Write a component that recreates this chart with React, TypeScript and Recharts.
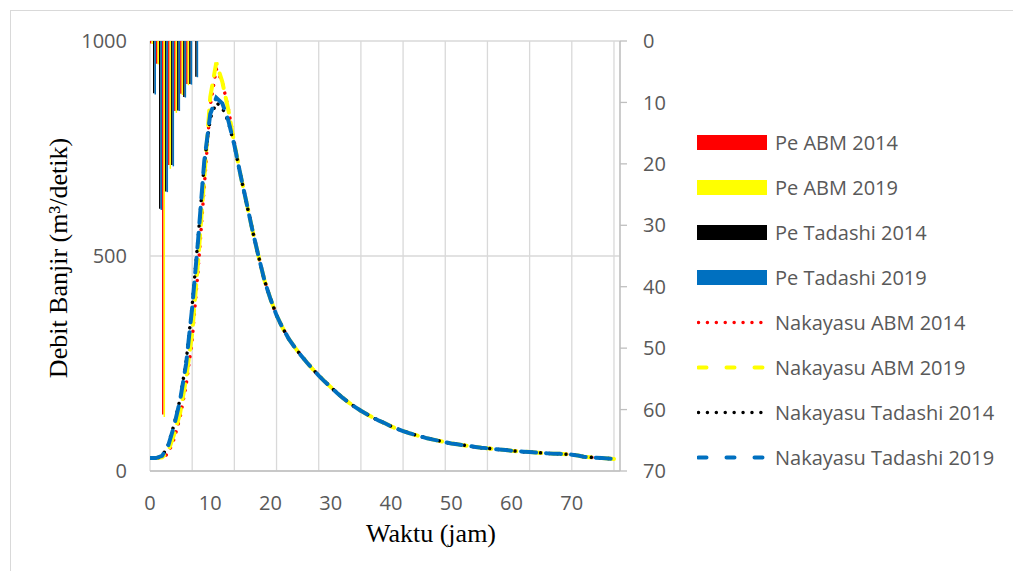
import React from 'react';
import { ComposedChart, Line, Bar, XAxis, YAxis, CartesianGrid, Legend } from 'recharts';

// ---- data ----
const hours = [
  0, 1, 2, 3, 4, 5, 6, 7, 8, 9, 10, 11, 12, 13, 14, 15, 16, 17, 18, 19,
  20, 21, 22, 23, 24, 25, 26, 27, 28, 29, 30, 31, 32, 33, 34, 35, 36, 37, 38, 39,
  40, 41, 42, 43, 44, 45, 46, 47, 48, 49, 50, 51, 52, 53, 54, 55, 56, 57, 58, 59,
  60, 61, 62, 63, 64, 65, 66, 67, 68, 69, 70, 71, 72, 73, 74, 75, 76, 77,
];

const nakayasuAbm2014 = [
  30, 30, 31, 40, 75, 125, 200, 305, 470, 660, 850, 935, 905, 842, 764, 691, 626, 561, 501, 444,
  400, 362, 333, 308, 288, 270, 253, 237, 222, 208, 195, 182, 170, 159, 149, 140, 132, 124, 117, 111,
  104, 98, 93, 88, 84, 80, 76, 73, 70, 67, 64, 62, 60, 58, 56, 54, 53, 51, 50, 49,
  47, 46, 45, 44, 43, 42, 41, 40, 40, 39, 38, 36, 33, 32, 31, 30, 29, 28,
];

const nakayasuAbm2019 = [
  30, 30, 32, 45, 85, 135, 215, 320, 490, 680, 870, 950, 905, 840, 762, 690, 625, 560, 500, 443,
  400, 362, 333, 308, 288, 270, 253, 237, 222, 208, 195, 182, 170, 159, 149, 140, 132, 124, 117, 111,
  104, 98, 93, 88, 84, 80, 76, 73, 70, 67, 64, 62, 60, 58, 56, 54, 53, 51, 50, 49,
  47, 46, 45, 44, 43, 42, 41, 40, 40, 39, 38, 36, 33, 32, 31, 30, 29, 28,
];

const nakayasuTadashi2014 = [
  30, 30, 34, 60, 108, 168, 255, 385, 545, 715, 820, 857, 845, 812, 757, 689, 624, 560, 500, 443,
  400, 362, 333, 308, 288, 270, 253, 237, 222, 208, 195, 182, 170, 159, 149, 140, 132, 124, 117, 111,
  104, 98, 93, 88, 84, 80, 76, 73, 70, 67, 64, 62, 60, 58, 56, 54, 53, 51, 50, 49,
  47, 46, 45, 44, 43, 42, 41, 40, 40, 39, 38, 36, 33, 32, 31, 30, 29, 28,
];

const nakayasuTadashi2019 = [
  30, 30, 35, 58, 105, 165, 250, 380, 540, 720, 830, 868, 855, 815, 758, 690, 625, 560, 500, 443,
  400, 362, 333, 308, 288, 270, 253, 237, 222, 208, 195, 182, 170, 159, 149, 140, 132, 124, 117, 111,
  104, 98, 93, 88, 84, 80, 76, 73, 70, 67, 64, 62, 60, 58, 56, 54, 53, 51, 50, 49,
  47, 46, 45, 44, 43, 42, 41, 40, 40, 39, 38, 36, 33, 32, 31, 30, 29, 28,
];

// rainfall blocks (mm), plotted on the reversed right axis
const rainHours = [0.5, 1.5, 2.5, 3.5, 4.5, 5.5, 6.5, 7.5];
const peAbm2014 = [0.4, 3.7, 60.8, 20.2, 11.4, 8.6, 7.0, 0];
const peAbm2019 = [0.5, 3.8, 61.2, 20.8, 11.7, 8.8, 7.2, 0];
const peTadashi2014 = [8.5, 27.3, 24.5, 20.2, 11.3, 9.1, 7.0, 5.8];
const peTadashi2019 = [8.7, 27.5, 24.6, 20.4, 11.4, 9.2, 7.1, 5.9];

const xTicks = [0, 10, 20, 30, 40, 50, 60, 70];
const xGridTicks = [0, 7, 14, 21, 28, 35, 42, 49, 56, 63, 70, 77];
const leftTicks = [0, 500, 1000];
const rightTicks = [0, 10, 20, 30, 40, 50, 60, 70];

const barNames = ['Pe ABM 2014', 'Pe ABM 2019', 'Pe Tadashi 2014', 'Pe Tadashi 2019'];
const barColors = ['#ff0000', '#ffff00', '#000000', '#0070c0'];
const barKeys = ['peAbm2014', 'peAbm2019', 'peTadashi2014', 'peTadashi2019'];
const barValues = [peAbm2014, peAbm2019, peTadashi2014, peTadashi2019];

const lineNames = ['Nakayasu ABM 2014', 'Nakayasu ABM 2019', 'Nakayasu Tadashi 2014', 'Nakayasu Tadashi 2019'];
const lineColors = ['#ff0000', '#ffff00', '#000000', '#0070c0'];
const lineValues = [nakayasuAbm2014, nakayasuAbm2019, nakayasuTadashi2014, nakayasuTadashi2019];
const lineDotted = [true, false, true, false];

const barRows = rainHours.map((t, i) => {
  const row: Record<string, number> = { t };
  barKeys.forEach((k, j) => {
    row[k] = barValues[j][i];
  });
  return row;
});

const lineData = lineValues.map((vals) => hours.map((t, i) => ({ t, q: vals[i] })));

const TICK_FONT = { fontFamily: 'Open Sans', fontSize: 20, fill: '#595959' };
const AXIS_GRAY = '#bfbfbf';
const GRID_GRAY = '#d9d9d9';

const dottedStyle = { strokeWidth: 3.5, strokeDasharray: '0.01 8.5', strokeLinecap: 'round' as const };
const dashedStyle = { strokeWidth: 4, strokeDasharray: '15 10', strokeLinecap: 'round' as const };

const renderLegend = () => {
  const rowH = 45;
  return (
    <svg width={330} height={370} style={{ display: 'block' }}>
      {barNames.map((name, i) => {
        const cy = 22.5 + rowH * i;
        return (
          <g key={name}>
            <rect x={0} y={cy - 7.5} width={70} height={15} fill={barColors[i]} />
            <text x={78} y={cy} dominantBaseline="central" {...TICK_FONT}>{name}</text>
          </g>
        );
      })}
      {lineNames.map((name, i) => {
        const cy = 22.5 + rowH * (i + 4);
        return (
          <g key={name}>
            {lineDotted[i] ? (
              <line x1={1.5} x2={64} y1={cy} y2={cy} stroke={lineColors[i]} strokeWidth={3.5}
                strokeDasharray="0.01 8.9" strokeLinecap="round" />
            ) : (
              <line x1={1.5} x2={68.5} y1={cy} y2={cy} stroke={lineColors[i]} strokeWidth={4}
                strokeDasharray="8 20" strokeLinecap="round" />
            )}
            <text x={78} y={cy} dominantBaseline="central" {...TICK_FONT}>{name}</text>
          </g>
        );
      })}
    </svg>
  );
};

const XTitle = (props: any) => {
  const vb = props.viewBox || { x: 0, y: 0, width: 0, height: 0 };
  return (
    <text x={vb.x + vb.width / 2 + 46} y={vb.y + 62} textAnchor="middle" dominantBaseline="central"
      fontFamily="Liberation Serif" fontSize={26} fill="#000">
      Waktu (jam)
    </text>
  );
};

const YTitle = (props: any) => {
  const vb = props.viewBox || { x: 0, y: 0, width: 0, height: 0 };
  const cx = vb.x + 50;
  const cy = vb.y + vb.height / 2 + 2;
  return (
    <text x={cx} y={cy} textAnchor="middle" dominantBaseline="central" transform={`rotate(-90, ${cx}, ${cy})`}
      fontFamily="Liberation Serif" fontSize={26} fill="#000">
      Debit Banjir (m³/detik)
    </text>
  );
};

export default function App() {
  return (
    <div style={{ position: 'relative', width: 1005, height: 563 }}>
      <div style={{ position: 'absolute', left: 2, top: 2, width: 1003, height: 561,
        borderTop: `1px solid ${GRID_GRAY}`, borderLeft: `1px solid ${GRID_GRAY}`, boxSizing: 'border-box' }} />
      <ComposedChart width={1005} height={563} data={barRows}
        margin={{ top: 33, right: 313, bottom: 0, left: 0 }}>
        <CartesianGrid xAxisId="grid" yAxisId="left" stroke={GRID_GRAY} strokeWidth={1.3} />
        <XAxis xAxisId="main" type="number" dataKey="t" domain={[0, 78]} ticks={xTicks} interval={0}
          height={100} allowDataOverflow
          axisLine={{ stroke: AXIS_GRAY, strokeWidth: 1.3 }} tickLine={false} tickSize={0} tickMargin={25}
          tick={TICK_FONT} label={<XTitle />} />
        <XAxis xAxisId="grid" type="number" dataKey="t" domain={[0, 78]} ticks={xGridTicks} hide height={0}
          allowDataOverflow />
        <XAxis xAxisId="bars" type="number" dataKey="t" domain={[0, 78]} hide height={0} allowDataOverflow />
        <YAxis yAxisId="left" type="number" domain={[0, 1000]} ticks={leftTicks} interval={0} width={142}
          axisLine={false} tickLine={false} tickSize={0} tickMargin={23} tick={TICK_FONT}
          label={<YTitle />} />
        <YAxis yAxisId="right" orientation="right" type="number" domain={[0, 70]} ticks={rightTicks}
          interval={0} reversed width={80}
          axisLine={{ stroke: AXIS_GRAY, strokeWidth: 1.3 }} tickLine={{ stroke: AXIS_GRAY, strokeWidth: 1.3 }}
          tickSize={7} tickMargin={16} tick={TICK_FONT} />
        {barKeys.map((k, i) => (
          <Bar key={k} xAxisId="bars" yAxisId="right" dataKey={k} name={barNames[i]} fill={barColors[i]}
            barSize={1.5} isAnimationActive={false} />
        ))}
        {lineData.map((d, i) => (
          <Line key={lineNames[i]} data={d} xAxisId="main" yAxisId="left" dataKey="q" name={lineNames[i]}
            type="linear" stroke={lineColors[i]} dot={false} activeDot={false}
            {...(lineDotted[i] ? dottedStyle : dashedStyle)} isAnimationActive={false} />
        ))}
        <Legend layout="vertical" align="center" verticalAlign="middle" content={renderLegend}
          wrapperStyle={{ left: 689, top: 112, width: 330, height: 370 }} />
      </ComposedChart>
    </div>
  );
}
